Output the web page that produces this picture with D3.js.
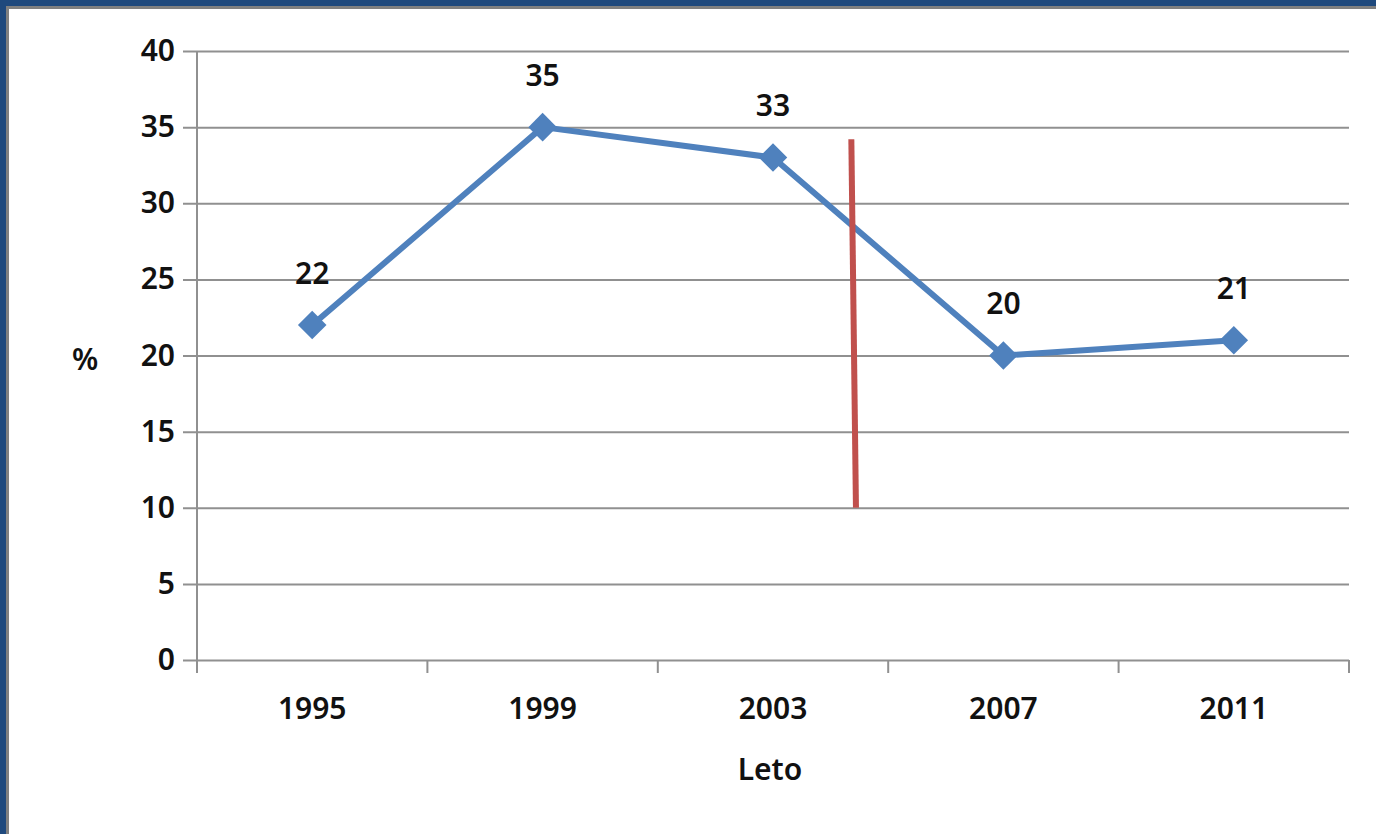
<!DOCTYPE html>
<html>
<head>
<meta charset="utf-8">
<script src="https://cdn.jsdelivr.net/npm/d3@7"></script>
<style>
  body { margin: 0; background: #fff; }
  svg text { font-family: 'Noto Sans', sans-serif; font-weight: 600; fill: #111; }
</style>
</head>
<body>
<div id="chart-area"></div>
<script>
// Data
let years = ['1995', '1999', '2003', '2007', '2011'];
let values = [22, 35, 33, 20, 21];
let yTicks = [0, 5, 10, 15, 20, 25, 30, 35, 40];
// red divider, positioned in category-index units
let divider = [{ i: 2.34, v: 34.2 }, { i: 2.36, v: 10 }];

let W = 1376, H = 834;
let margin = { top: 51, right: 27, bottom: 174, left: 197 };
let width = W - margin.left - margin.right,
  height = H - margin.top - margin.bottom;

let root = d3.select('#chart-area').append('svg')
  .attr('width', W).attr('height', H);

// frame
root.append('rect').attr('x', 0).attr('y', 0).attr('width', W).attr('height', 6).attr('fill', '#1F497D');
root.append('rect').attr('x', 0).attr('y', 0).attr('width', 6).attr('height', H).attr('fill', '#1F497D');
root.append('rect').attr('x', 6).attr('y', 6).attr('width', W - 6).attr('height', 3).attr('fill', '#808080');
root.append('rect').attr('x', 6).attr('y', 6).attr('width', 3).attr('height', H - 6).attr('fill', '#808080');

let svg = root.append('g')
  .attr('transform', 'translate(' + margin.left + ',' + margin.top + ')');

// Scales
let x = d3.scaleBand().domain(years).range([0, width]);
let xi = d3.scaleLinear().domain([-0.5, years.length - 0.5]).range([0, width]);
let y = d3.scaleLinear().domain([0, 40]).range([height, 0]);

// Gridlines + y axis
svg.append('g')
  .attr('class', 'y-axis')
  .call(d3.axisLeft(y).tickValues(yTicks).tickSize(-width).tickPadding(22).tickSizeOuter(0))
  .call(g => g.select('.domain').remove())
  .call(g => g.selectAll('.tick line').attr('x1', -14).attr('stroke', '#909090').attr('stroke-width', 2))
  .call(g => g.selectAll('.tick text').attr('font-size', 30).attr('font-family', "'Noto Sans', sans-serif"));

svg.append('line')
  .attr('x1', 0).attr('x2', 0).attr('y1', 0).attr('y2', height + 13)
  .attr('stroke', '#909090').attr('stroke-width', 2);

// x axis
let xg = svg.append('g')
  .attr('class', 'x-axis')
  .attr('transform', `translate(0, ${height})`)
  .call(d3.axisBottom(x).tickSize(0).tickPadding(38))
  .call(g => g.select('.domain').remove())
  .call(g => g.selectAll('.tick text').attr('font-size', 30).attr('font-family', "'Noto Sans', sans-serif"));

let bounds = d3.range(years.length + 1).map(k => xi(k - 0.5));
xg.selectAll('.bound').data(bounds).enter().append('line')
  .attr('x1', d => d).attr('x2', d => d).attr('y1', 0).attr('y2', 13)
  .attr('stroke', '#909090').attr('stroke-width', 2);

// axis titles
svg.append('text').attr('x', -112).attr('y', y(20) + 4).attr('dy', '0.35em')
  .attr('text-anchor', 'middle').attr('font-size', 30).text('%');
svg.append('text').attr('x', width / 2 - 3).attr('y', height + 120)
  .attr('text-anchor', 'middle').attr('font-size', 30).text('Leto');

// line
let line = d3.line()
  .x((d, k) => x(years[k]) + x.bandwidth() / 2)
  .y(d => y(d));
svg.append('path').datum(values)
  .attr('d', line).attr('fill', 'none')
  .attr('stroke', '#4F81BD').attr('stroke-width', 6).attr('stroke-linejoin', 'round');

// markers
svg.selectAll('.point').data(values).enter().append('path')
  .attr('class', 'point')
  .attr('transform', (d, k) => `translate(${x(years[k]) + x.bandwidth() / 2},${y(d)})`)
  .attr('d', d3.symbol().type(d3.symbolDiamond2).size(520))
  .attr('fill', '#4F81BD');

// labels
svg.selectAll('.lbl').data(values).enter().append('text')
  .attr('class', 'lbl')
  .attr('x', (d, k) => x(years[k]) + x.bandwidth() / 2)
  .attr('y', d => y(d) - 52)
  .attr('dy', '0.35em')
  .attr('text-anchor', 'middle').attr('font-size', 30)
  .text(d => d);

// red divider
svg.append('path').datum(divider)
  .attr('d', d3.line().x(d => xi(d.i)).y(d => y(d.v)))
  .attr('stroke', '#C0504D').attr('stroke-width', 6).attr('fill', 'none');
</script>
</body>
</html>
